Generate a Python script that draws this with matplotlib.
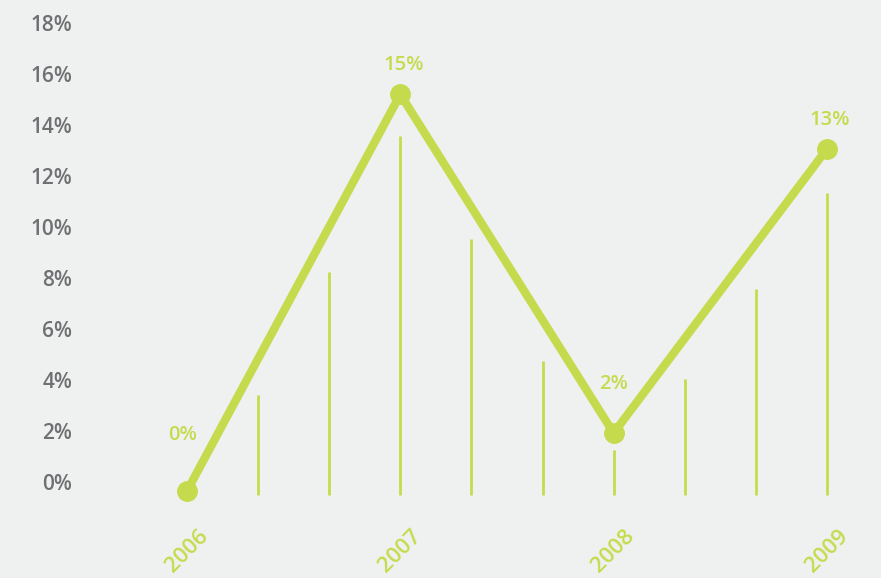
import matplotlib
matplotlib.use("Agg")
import matplotlib.pyplot as plt

# data
years = ["2006", "2007", "2008", "2009"]
growth = [-0.35, 15.2, 1.92, 13.06]
growth_labels = ["0%", "15%", "2%", "13%"]
# thin vertical bars, every third of a year
bar_pos = [1/3, 2/3, 1, 4/3, 5/3, 2, 7/3, 8/3, 3]
bar_top = [3.41, 8.24, 13.57, 9.53, 4.75, 1.25, 4.04, 7.57, 11.33]
bar_base = -0.5
yticks = [0, 2, 4, 6, 8, 10, 12, 14, 16, 18]

green = "#c5db4d"
grey = "#6f7072"
bg = "#eff0f0"

plt.rcParams["font.family"] = ["Open Sans", "DejaVu Sans"]

fig = plt.figure(figsize=(8.81, 5.78), dpi=100, facecolor=bg)
ax = fig.add_axes([100/881, 73/578, 760/881, 495/578])
ax.set_facecolor(bg)

ax.vlines(bar_pos, bar_base, bar_top, color=green, lw=2)
ax.plot(range(len(years)), growth, color=green, lw=6, marker="o",
        markersize=14, solid_capstyle="round", clip_on=False, zorder=3)

# value labels, offsets in pixels
offsets = [(-4, 56), (3, 29), (0, 49), (3, 29)]
for i, (val, lab) in enumerate(zip(growth, growth_labels)):
    ax.annotate(lab, (i, val), xytext=offsets[i], textcoords="offset pixels",
                ha="center", va="center", color=green, fontsize=14.5,
                fontweight="semibold")

ax.set_xlim(-0.408, 3.155)
ax.set_ylim(-0.902, 18.51)
ax.set_yticks(yticks)
ax.set_yticklabels([f"{t}%" for t in yticks], color=grey, fontsize=15,
                   fontweight="semibold")
ax.set_xticks(range(len(years)))
ax.set_xticklabels(years, rotation=45, ha="center", va="top",
                   color=green, fontsize=16, fontweight="semibold")
ax.tick_params(axis="y", length=0, pad=20)
ax.tick_params(axis="x", length=0, pad=15)
for s in ax.spines.values():
    s.set_visible(False)

fig.savefig("out.png", dpi=100, facecolor=bg)
